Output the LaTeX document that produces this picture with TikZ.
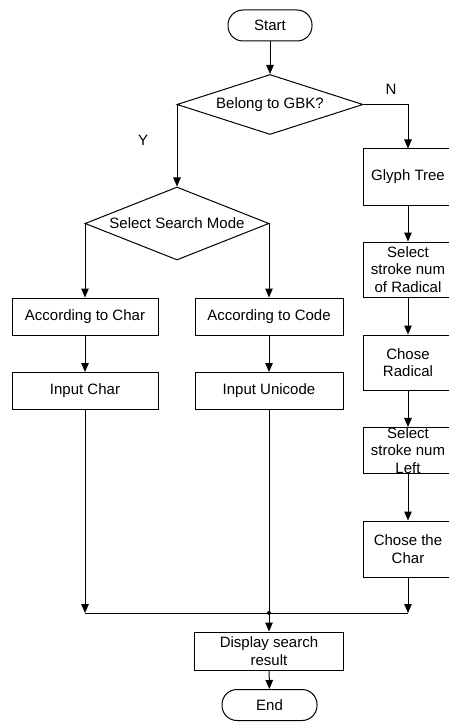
\documentclass[tikz,border=0pt]{standalone}
\usepackage{fontspec}
\setmainfont{Liberation Sans}
\usetikzlibrary{shapes.geometric,arrows.meta}
\tikzset{term/.style={draw, rectangle, rounded corners=15pt, minimum height=31pt, inner sep=0pt},
  proc/.style={draw, rectangle, align=center, inner sep=0pt},
  decide/.style={draw, diamond, inner sep=0pt, align=center},
  arr/.style={-{Triangle[length=9pt,width=7.5pt]}},
  lbl/.style={inner sep=0pt}}

\begin{document}
\begin{tikzpicture}[x=1pt,y=-1pt,line width=1pt,font=\fontsize{15}{17.5}\selectfont]
    \useasboundingbox (0,0) rectangle (449,722);
    \node[term, minimum width=84pt] (start) at (270,25.5) {Start};
    \node[decide, minimum width=186pt, minimum height=60pt, aspect=3.1] (gbk) at (270,104.5) {Belong to GBK?};
    \node[decide, minimum width=184pt, minimum height=73pt, aspect=2.5] (sel) at (177,223.5) {Select Search Mode};
    \node[proc, minimum width=146pt, minimum height=37pt] (achar) at (85,316.5) {According to Char};
    \node[proc, minimum width=148pt, minimum height=37pt] (acode) at (269,316.5) {According to Code};
    \node[proc, minimum width=146pt, minimum height=37pt] (inchar) at (85,391) {Input Char};
    \node[proc, minimum width=148pt, minimum height=37pt] (inuni) at (269,391) {Input Unicode};
    \node[proc, minimum width=90pt, minimum height=56pt] (glyph) at (408,177) {Glyph Tree};
    \node[proc, minimum width=90pt, minimum height=55pt] (selrad) at (408,269.5) {Select\\stroke num\\of Radical};
    \node[proc, minimum width=90pt, minimum height=55pt] (chrad) at (408,362.5) {Chose\\Radical};
    \node[proc, minimum width=90pt, minimum height=45pt] (selleft) at (408,450.5) {Select\\stroke num\\Left};
    \node[proc, minimum width=90pt, minimum height=56pt] (chchar) at (408,549) {Chose the\\Char};
    \node[proc, minimum width=149pt, minimum height=38pt] (disp) at (269,651) {Display search\\result};
    \node[term, minimum width=95pt] (end) at (269.5,705) {End};
    \node[lbl] (lblY) at (143,140) {Y};
    \node[lbl] (lblN) at (391,89) {N};
    \coordinate (mL) at (85,613);
    \coordinate (mC) at (269,613);
    \coordinate (mR) at (408,613);

    \draw[arr] (start) -- (gbk);
    \draw[arr] (gbk.west) -| (sel.north);
    \draw[arr] (gbk.east) -| (glyph.north);
    \draw[arr] (sel.west) -| (achar.north);
    \draw[arr] (sel.east) -| (acode.north);
    \draw[arr] (achar) -- (inchar);
    \draw[arr] (acode) -- (inuni);
    \draw[arr] (glyph) -- (selrad);
    \draw[arr] (selrad) -- (chrad);
    \draw[arr] (chrad) -- (selleft);
    \draw[arr] (selleft) -- (chchar);
    \draw[arr] (inchar) -- (mL);
    \draw[arr] (chchar) -- (mR);
    \draw (mL) -- (mR);
    \draw[arr] (inuni) -- (disp);
    \fill (mC) circle (2pt);
    \draw[arr] (disp) -- (end);
  \end{tikzpicture}
\end{document}
